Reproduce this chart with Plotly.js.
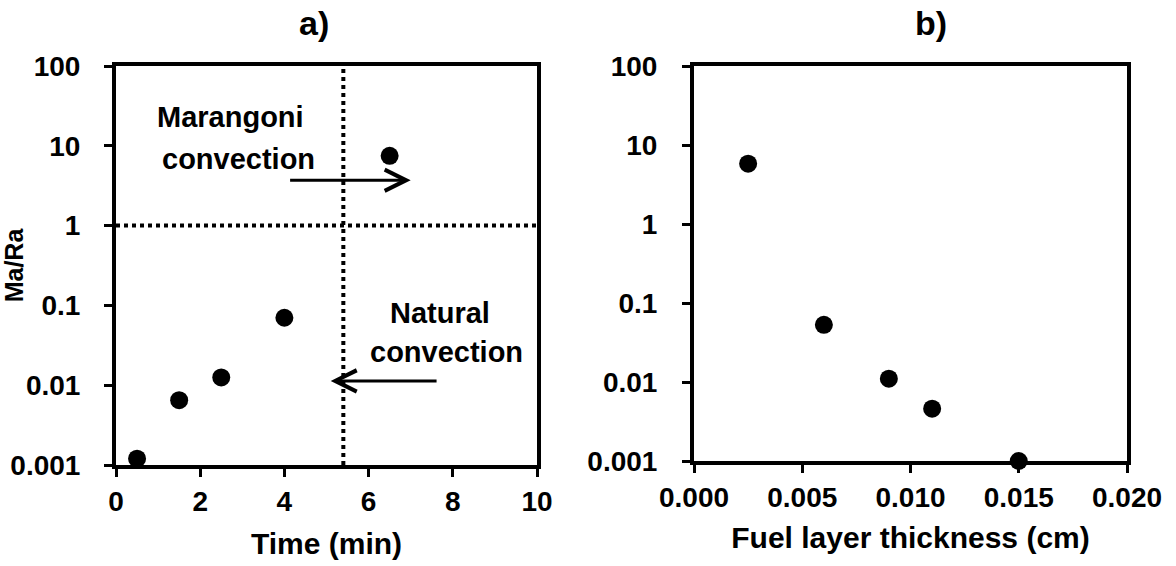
<!DOCTYPE html>
<html>
<head>
<meta charset="utf-8">
<script src="https://cdn.plot.ly/plotly-3.0.1.min.js"></script>
<style>html,body{margin:0;padding:0;background:#fff;}#chart{width:1176px;height:566px;}</style>
</head>
<body>
<div id="chart"></div>
<script>
// Panel a) Ma/Ra vs time
const timeMin = [0.5, 1.5, 2.5, 4, 6.5];
const maRaTime = [0.0012, 0.0065, 0.0125, 0.07, 7.5];
// Panel b) Ma/Ra vs fuel layer thickness
const thicknessCm = [0.0025, 0.006, 0.009, 0.011, 0.015];
const maRaThick = [5.8, 0.053, 0.011, 0.0046, 0.001];
// Regime boundaries in panel a)
const transitionTime = [5.4, 5.4];
const transitionY = [0.001, 100];
const unityX = [0, 10];
const unityY = [1, 1];
// Arrows (data units): [tailX, tailY, headX, headY]
const marangoniArrow = [4.1, 3.7, 7.0, 3.7];
const naturalArrow = [7.65, 0.0113, 5.1, 0.0113];

const yTickVals = [0.001, 0.01, 0.1, 1, 10, 100];
const yTickText = ['0.001', '0.01', '0.1', '1', '10', '100'];
const xTickValsB = [0, 0.005, 0.01, 0.015, 0.02];
const xTickTextB = ['0.000', '0.005', '0.010', '0.015', '0.020'];

const FONT = 'Liberation Sans, Arial, sans-serif';
const tickFont = {family: FONT, size: 28, color: '#000', weight: 'bold'};
const titleFont = {family: FONT, size: 30, color: '#000', weight: 'bold'};

const marker = {size: 18, color: '#000', symbol: 'circle'};

const traces = [
  {x: transitionTime, y: transitionY, xaxis: 'x', yaxis: 'y', mode: 'lines',
   line: {color: '#000', width: 4, dash: 'dot'}, hoverinfo: 'skip', showlegend: false},
  {x: unityX, y: unityY, xaxis: 'x', yaxis: 'y', mode: 'lines',
   line: {color: '#000', width: 4, dash: 'dot'}, hoverinfo: 'skip', showlegend: false},
  {x: timeMin, y: maRaTime, xaxis: 'x', yaxis: 'y', mode: 'markers', marker: marker,
   cliponaxis: false, showlegend: false},
  {x: thicknessCm, y: maRaThick, xaxis: 'x2', yaxis: 'y2', mode: 'markers', marker: marker,
   cliponaxis: false, showlegend: false}
];

const axisCommon = {
  showline: true, linecolor: '#000', linewidth: 4, mirror: true,
  ticks: 'outside', ticklen: 8, tickwidth: 3, tickcolor: '#000',
  showgrid: false, zeroline: false, tickfont: tickFont, fixedrange: true
};

function arrowAnn(a) {
  return {
    xref: 'x', yref: 'y', axref: 'x', ayref: 'y',
    x: a[2], y: Math.log10(a[3]), ax: a[0], ay: Math.log10(a[1]),
    showarrow: true, arrowhead: 5, arrowsize: 1.4, arrowwidth: 3, arrowcolor: '#000',
    text: '', standoff: 0, startstandoff: 0
  };
}

const annFont = {family: FONT, size: 29, color: '#000', weight: 'bold'};
const panelFont = {family: FONT, size: 34, color: '#000', weight: 'bold'};

function textAnn(px, py, txt, font) {
  return {xref: 'paper', yref: 'paper', x: px / 1176, y: 1 - py / 566, text: txt,
          showarrow: false, font: font, xanchor: 'center', yanchor: 'middle'};
}

const layout = {
  width: 1176, height: 566,
  margin: {l: 0, r: 0, t: 0, b: 0},
  paper_bgcolor: '#fff', plot_bgcolor: '#fff',
  showlegend: false,
  xaxis: Object.assign({}, axisCommon, {
    domain: [116 / 1176, 537 / 1176], range: [0, 10], dtick: 2, tick0: 0, anchor: 'y',
    ticklabelstandoff: 0,
    title: {text: 'Time (min)', font: titleFont, standoff: 18}
  }),
  yaxis: Object.assign({}, axisCommon, {
    domain: [1 - 465 / 566, 1 - 66 / 566], type: 'log', range: [-3, 2], anchor: 'x',
    tickvals: yTickVals, ticktext: yTickText, ticklabelstandoff: 18,
    title: {text: 'Ma/Ra', font: {family: FONT, size: 25, color: '#000', weight: 'bold'}, standoff: 2}
  }),
  xaxis2: Object.assign({}, axisCommon, {
    domain: [694 / 1176, 1127 / 1176], range: [0, 0.02], anchor: 'y2',
    tickvals: xTickValsB, ticktext: xTickTextB, ticklabelstandoff: 0,
    title: {text: 'Fuel layer thickness (cm)', font: titleFont, standoff: 16}
  }),
  yaxis2: Object.assign({}, axisCommon, {
    domain: [1 - 461 / 566, 1 - 66 / 566], type: 'log', range: [-3, 2], anchor: 'x2',
    tickvals: yTickVals, ticktext: yTickText, ticklabelstandoff: 19
  }),
  annotations: [
    textAnn(314, 23, 'a)', panelFont),
    textAnn(931, 23, 'b)', panelFont),
    textAnn(230, 117, 'Marangoni', annFont),
    textAnn(238, 159, 'convection', annFont),
    textAnn(440, 313, 'Natural', annFont),
    textAnn(446, 352, 'convection', annFont),
    arrowAnn(marangoniArrow),
    arrowAnn(naturalArrow)
  ]
};

Plotly.newPlot('chart', traces, layout, {displayModeBar: false, staticPlot: true});
</script>
</body>
</html>
